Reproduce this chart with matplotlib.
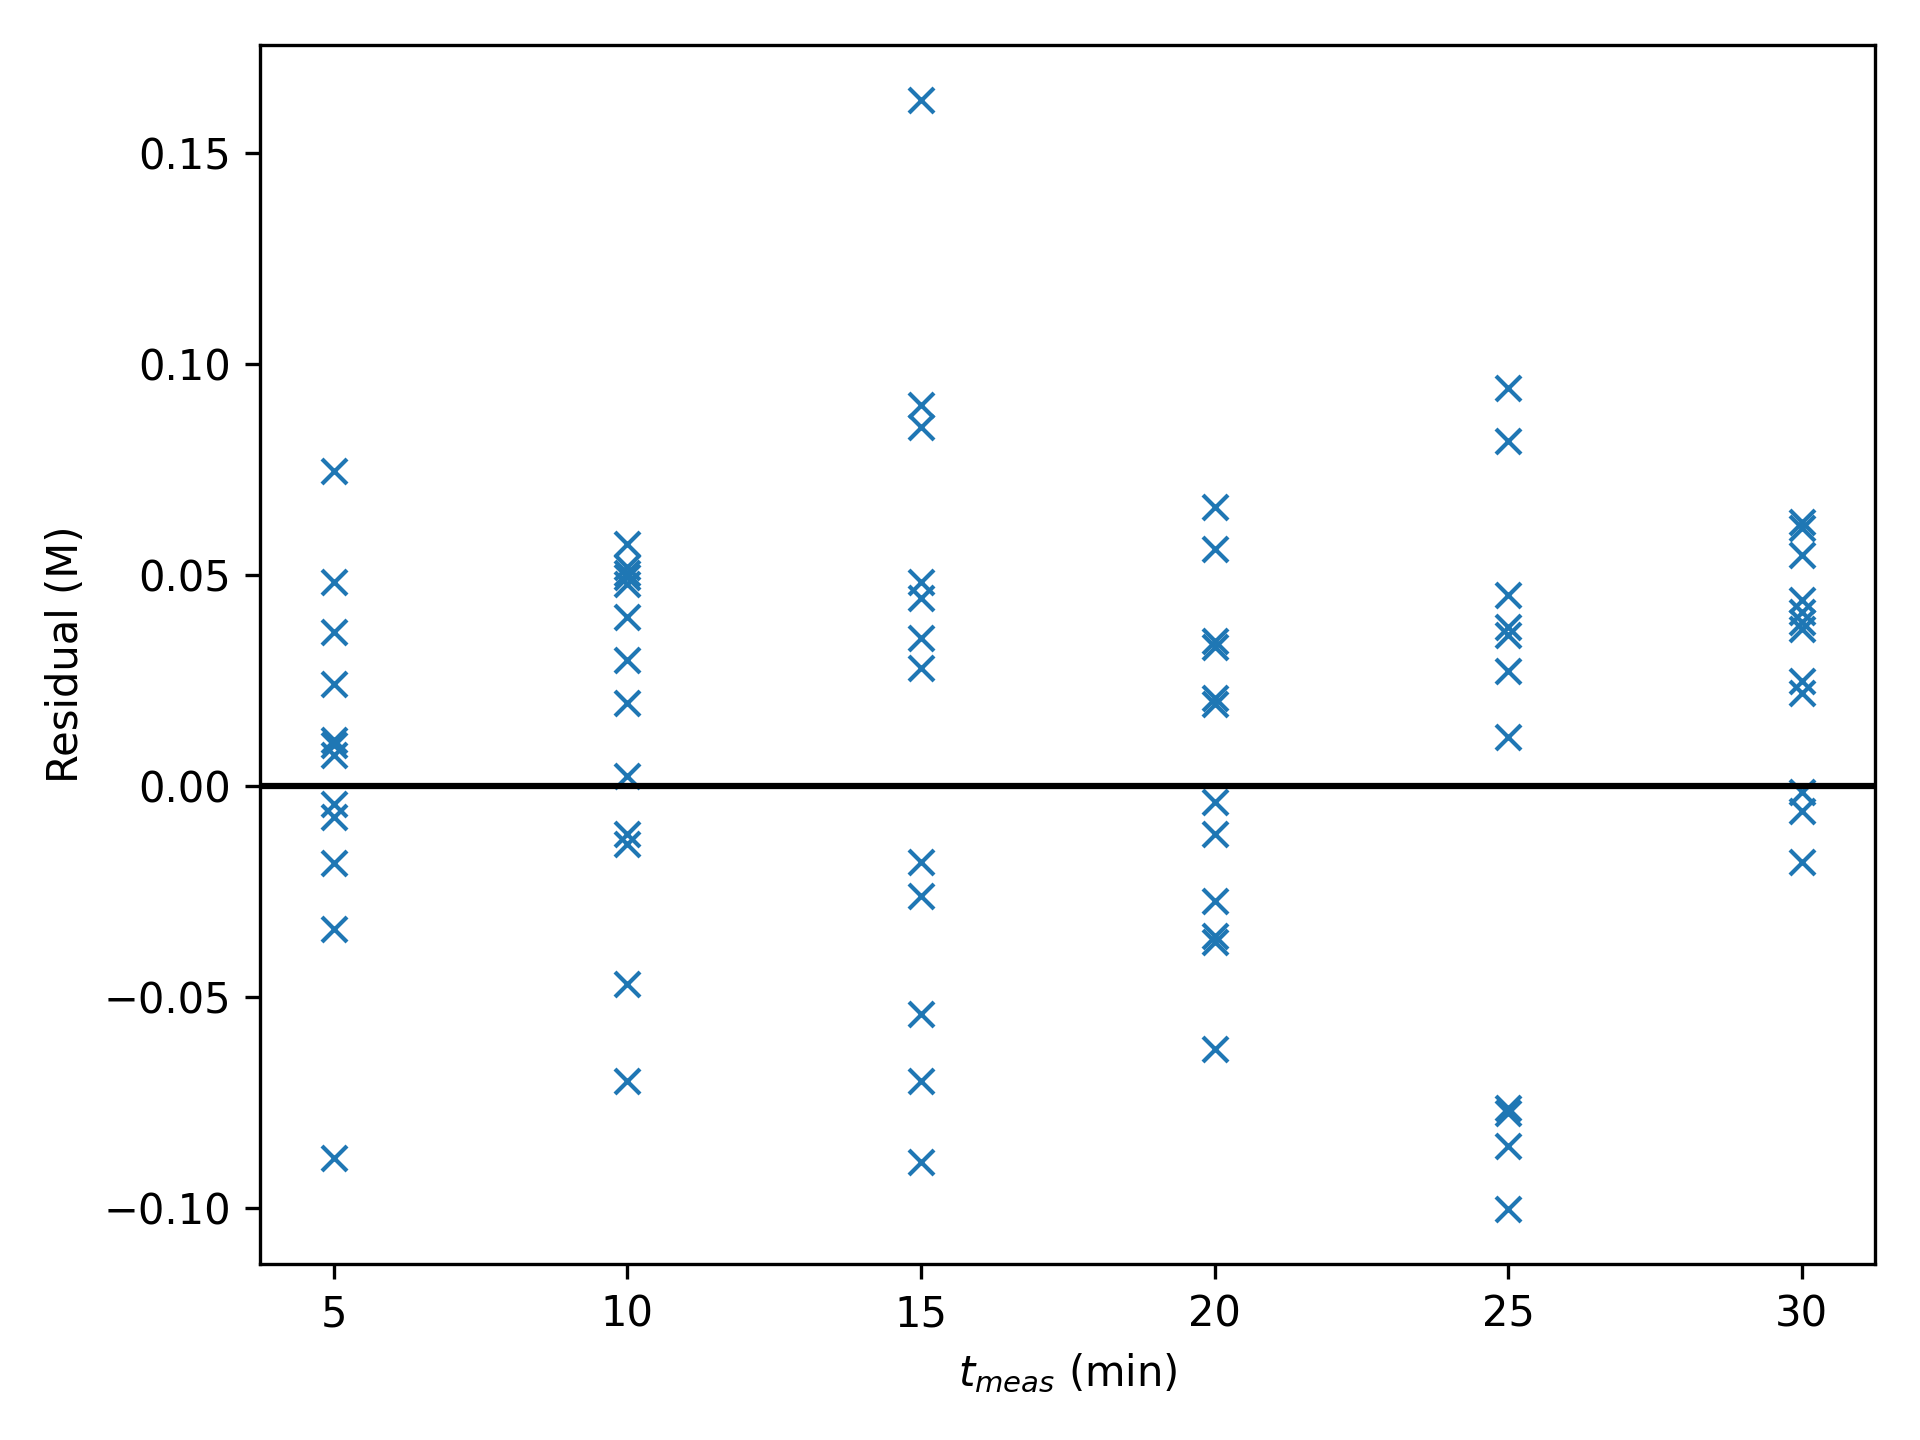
import matplotlib
matplotlib.use("Agg")
import matplotlib.pyplot as plt
import numpy as np

t5 = [0.0747, 0.0483, 0.0365, 0.0241, 0.0110, 0.0098, 0.0074, -0.0042, -0.0072, -0.0182, -0.0339, -0.0881]
t10 = [0.0573, 0.0520, 0.0505, 0.0495, 0.0478, 0.0400, 0.0298, 0.0198, 0.0025, -0.0113, -0.0136, -0.0470, -0.0698]
t15 = [0.1625, 0.0904, 0.0850, 0.0483, 0.0445, 0.0350, 0.0280, -0.0180, -0.0260, -0.0540, -0.0698, -0.0890]
t20 = [0.0661, 0.0561, 0.0345, 0.0330, 0.0210, 0.0194, -0.0038, -0.0113, -0.0272, -0.0355, -0.0370, -0.0623]
t25 = [0.0944, 0.0817, 0.0454, 0.0376, 0.0358, 0.0272, 0.0116, -0.0762, -0.0774, -0.0852, -0.1001]
t30 = [0.0627, 0.0611, 0.0547, 0.0440, 0.0412, 0.0390, 0.0372, 0.0250, 0.0220, -0.0015, -0.0060, -0.0180]

times = [5, 10, 15, 20, 25, 30]
residuals = [t5, t10, t15, t20, t25, t30]

x = []
y = []
for t, r in zip(times, residuals):
    x.extend([t] * len(r))
    y.extend(r)

fig, ax = plt.subplots(figsize=(6.4, 4.8), dpi=300)
ax.plot(x, y, 'x', color='C0', linestyle='none')
ax.axhline(0, color='black', linewidth=1.5)
ax.set_xlabel(r'$t_{meas}$ (min)')
ax.set_ylabel('Residual (M)')
fig.tight_layout()
fig.savefig('out.png', dpi=300)
